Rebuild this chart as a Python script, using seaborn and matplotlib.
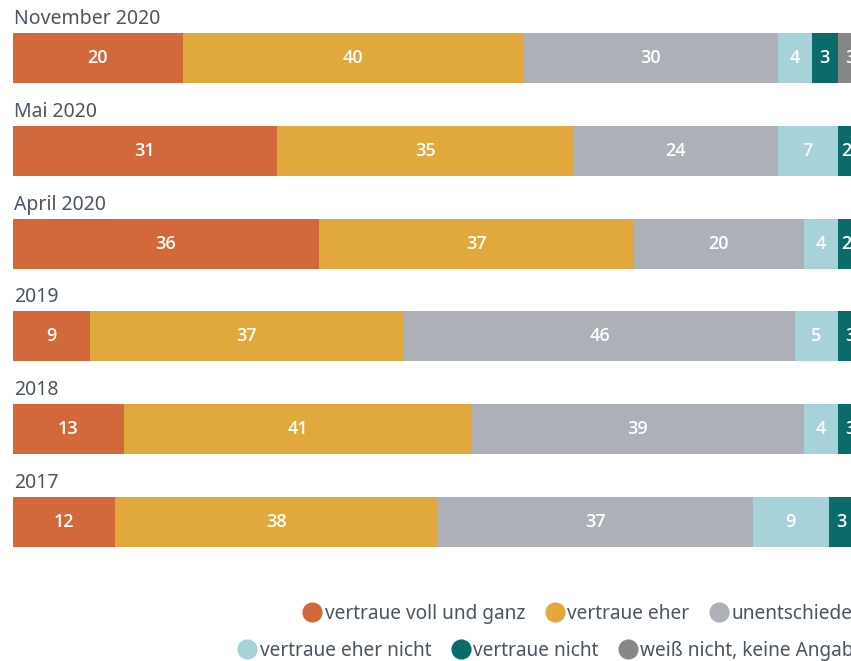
import matplotlib
matplotlib.use("Agg")
import matplotlib.pyplot as plt
from matplotlib.lines import Line2D
import seaborn as sns
import pandas as pd
import numpy as np

# data (percent)
periods = ["November 2020", "Mai 2020", "April 2020", "2019", "2018", "2017"]
categories = ["vertraue voll und ganz", "vertraue eher", "unentschieden",
              "vertraue eher nicht", "vertraue nicht", "weiß nicht, keine Angabe"]
voll = [20, 31, 36, 9, 13, 12]
eher = [40, 35, 37, 37, 41, 38]
unent = [30, 24, 20, 46, 39, 37]
eher_nicht = [4, 7, 4, 5, 4, 9]
nicht = [3, 2, 2, 3, 3, 3]
weiss = [3, 1, 1, 0, 0, 1]

colors = ["#d3693a", "#e1a93d", "#adb0b7", "#a8d2da", "#0b6b6b", "#878787"]
text_col = "#4a5560"

df = pd.DataFrame({"period": periods,
                   categories[0]: voll, categories[1]: eher, categories[2]: unent,
                   categories[3]: eher_nicht, categories[4]: nicht, categories[5]: weiss})
vals = df[categories].to_numpy(dtype=float)
cum = vals.cumsum(axis=1)

sns.set_theme(style="white")
plt.rcParams["font.family"] = ["Noto Sans", "DejaVu Sans"]

fig = plt.figure(figsize=(8.51, 6.61), dpi=100)
ax = fig.add_axes([13 / 851, 1 - 580 / 661, 1 - 13 / 851, 580 / 661])

# stacked bars: draw cumulative totals from the last category back to the first
for i in range(len(categories) - 1, -1, -1):
    sns.barplot(x=cum[:, i], y=df["period"], orient="h", color=colors[i],
                width=0.54, saturation=1, ax=ax, linewidth=0)

# value labels
for r in range(len(periods)):
    for i in range(len(categories)):
        v = vals[r, i]
        if v <= 0:
            continue
        ax.text(cum[r, i] - v / 2, r, f"{int(v)}", color="white",
                ha="center", va="center", fontsize=13, fontweight="semibold",
                family=["Open Sans", "DejaVu Sans"])
    # period title above each bar
    ax.text(0.1, r - 0.42, periods[r], color=text_col, ha="left", va="center",
            fontsize=14, clip_on=False)

ax.set_xlim(0, 838 / 8.5)
ax.set_ylim(5.625, -0.625)
ax.set_axis_off()

# legend in two rows, running off the right edge like the source
handles = [Line2D([0], [0], marker="o", linestyle="", markersize=13.5,
                  markerfacecolor=c, markeredgecolor=c) for c in colors]
leg_kw = dict(frameon=False, ncol=3, fontsize=13.7, handlelength=1.1,
              handletextpad=0.1, columnspacing=1.0, borderpad=0,
              borderaxespad=0, labelcolor=text_col, loc="center left")
leg1 = fig.legend(handles[:3], categories[:3],
                  bbox_to_anchor=(302 / 851, 1 - 614 / 661), **leg_kw)
leg2 = fig.legend(handles[3:], categories[3:],
                  bbox_to_anchor=(237 / 851, 1 - 651 / 661), **leg_kw)

fig.savefig("out.png", dpi=100)
